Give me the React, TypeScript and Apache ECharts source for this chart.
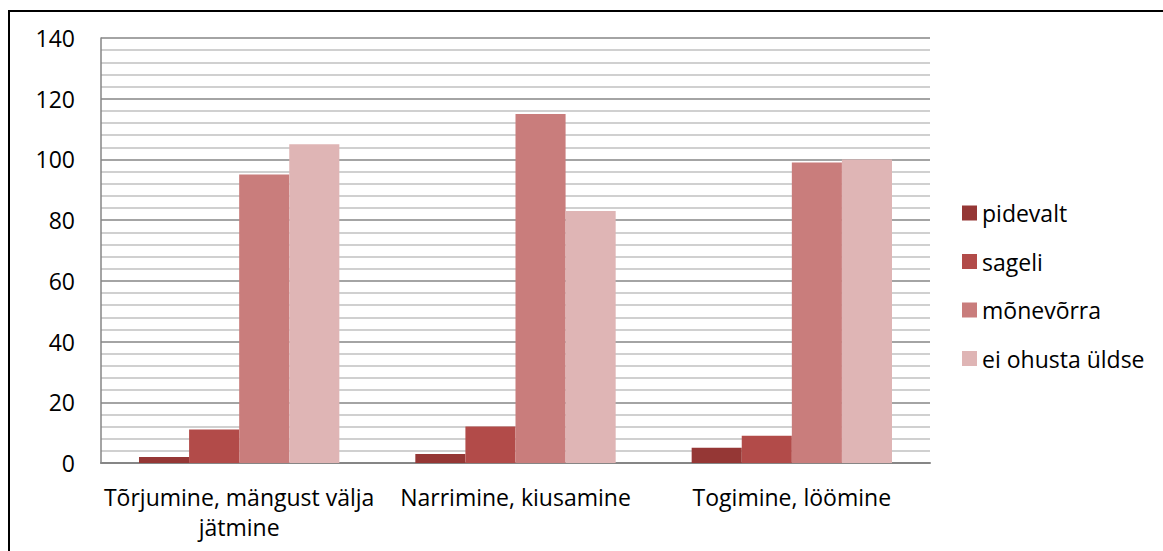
import React, { useEffect, useRef } from "react";
import * as echarts from "echarts";

const categories = ["Tõrjumine, mängust välja\njätmine", "Narrimine, kiusamine", "Togimine, löömine"];
const seriesNames = ["pidevalt", "sageli", "mõnevõrra", "ei ohusta üldse"];
const pidevalt = [2, 3, 5];
const sageli = [11, 12, 9];
const monevorra = [95, 115, 99];
const eiOhusta = [105, 83, 100];
const colors = ["#953735", "#B24B49", "#C97D7C", "#DFB5B5"];

export default function App() {
  const ref = useRef<HTMLDivElement>(null);
  useEffect(() => {
    if (!ref.current) return;
    const chart = echarts.init(ref.current, null, { renderer: "svg" });
    const values = [pidevalt, sageli, monevorra, eiOhusta];
    const font = "'Open Sans', 'Noto Sans', sans-serif";
    chart.setOption({
      animation: false,
      backgroundColor: "#ffffff",
      textStyle: { fontFamily: font },
      grid: { left: 101, right: 233, top: 38, bottom: 88, containLabel: false },
      legend: {
        orient: "vertical",
        left: 962,
        top: 201.5,
        padding: 0,
        itemWidth: 15,
        itemHeight: 15,
        itemGap: 25.5,
        icon: "rect",
        textStyle: { fontSize: 23, color: "#000", fontFamily: font },
        data: seriesNames,
      },
      xAxis: {
        type: "category",
        data: categories,
        axisLine: { lineStyle: { color: "#868686", width: 2 } },
        axisTick: { show: false },
        axisLabel: { color: "#000", fontSize: 23, lineHeight: 30, margin: 19, fontFamily: font, interval: 0 },
      },
      yAxis: {
        type: "value",
        min: 0,
        max: 140,
        interval: 20,
        axisLine: { show: true, lineStyle: { color: "#868686", width: 1.5 } },
        axisTick: { show: false },
        minorTick: { show: false, splitNumber: 5 },
        axisLabel: { color: "#000", fontSize: 23, margin: 26, fontFamily: font },
        splitLine: { show: true, lineStyle: { color: "#868686", width: 1.5 } },
        minorSplitLine: { show: true, lineStyle: { color: "#C0C0C0", width: 1.5 } },
      },
      series: seriesNames.map((name, i) => ({
        name,
        type: "bar",
        data: values[i],
        barGap: "0%",
        barCategoryGap: "27.5%",
        itemStyle: { color: colors[i] },
      })),
      graphic: [
        { type: "line", shape: { x1: 9, y1: 11, x2: 9, y2: 551 }, style: { stroke: "#000", lineWidth: 2 } },
        { type: "line", shape: { x1: 8, y1: 11, x2: 1163, y2: 11 }, style: { stroke: "#000", lineWidth: 2 } },
      ],
    });
    return () => chart.dispose();
  }, []);
  return <div ref={ref} style={{ position: "fixed", left: 0, top: 0, width: 1163, height: 551 }} />;
}
